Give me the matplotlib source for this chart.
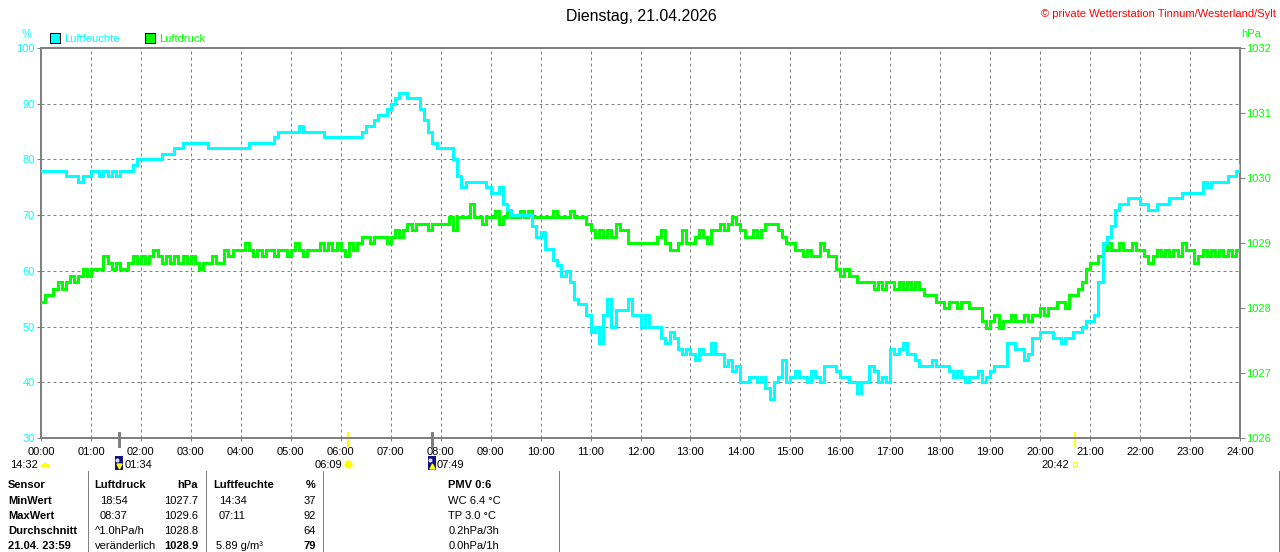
import matplotlib
matplotlib.use('Agg')
import matplotlib.pyplot as plt
import numpy as np
from matplotlib.patches import Rectangle
from matplotlib.lines import Line2D
from matplotlib.markers import MarkerStyle
import matplotlib.transforms as mtrans

plt.rcParams['font.family'] = ['Liberation Sans', 'DejaVu Sans']
plt.rcParams['lines.scale_dashes'] = False

# ---------------- data ----------------
title = 'Dienstag, 21.04.2026'
copyright_text = '\u00a9 private Wetterstation Tinnum/Westerland/Sylt'
hour_labels = ['%02d:00' % h for h in range(25)]
hum_ticks = [30, 40, 50, 60, 70, 80, 90, 100]
pres_ticks = [1026, 1027, 1028, 1029, 1030, 1031, 1032]
sample_step_min = 5

humidity = [
    78, 78, 78, 78, 78, 78, 77, 77, 77, 76, 77, 77,
    78, 78, 77, 78, 77, 78, 77, 78, 78, 78, 79, 80,
    80, 80, 80, 80, 80, 81, 81, 81, 82, 82, 83, 83,
    83, 83, 83, 83, 82, 82, 82, 82, 82, 82, 82, 82,
    82, 82, 83, 83, 83, 83, 83, 83, 84, 85, 85, 85,
    85, 85, 86, 85, 85, 85, 85, 85, 84, 84, 84, 84,
    84, 84, 84, 84, 84, 85, 86, 86, 87, 88, 88, 89,
    90, 91, 92, 92, 91, 91, 91, 89, 87, 85, 83, 82,
    82, 82, 82, 80, 77, 75, 76, 76, 76, 76, 76, 75,
    74, 74, 75, 72, 71, 70, 70, 70, 70, 70, 68, 66,
    67, 64, 64, 62, 61, 59, 60, 58, 55, 54, 54, 52,
    49, 50, 47, 52, 55, 50, 53, 53, 53, 55, 52, 52,
    50, 52, 50, 50, 50, 48, 47, 49, 48, 46, 45, 46,
    45, 44, 46, 45, 45, 47, 45, 45, 43, 44, 42, 43,
    40, 40, 41, 41, 40, 41, 39, 37, 40, 41, 44, 40,
    41, 42, 41, 41, 40, 42, 41, 40, 43, 43, 43, 42,
    41, 41, 40, 40, 38, 40, 40, 43, 42, 40, 41, 40,
    46, 45, 46, 47, 45, 45, 44, 43, 43, 43, 44, 43,
    43, 43, 42, 41, 42, 41, 40, 41, 41, 42, 40, 41,
    42, 43, 43, 43, 47, 47, 46, 46, 44, 45, 48, 48,
    49, 49, 49, 48, 48, 47, 48, 48, 49, 49, 50, 51,
    51, 52, 58, 65, 66, 68, 71, 72, 72, 73, 73, 73,
    72, 72, 71, 71, 72, 72, 72, 73, 73, 73, 74, 74,
    74, 74, 74, 76, 75, 76, 76, 76, 76, 77, 77, 78,
    79]

pressure = [
    1028.1, 1028.2, 1028.2, 1028.3, 1028.4, 1028.3, 1028.4, 1028.5, 1028.4, 1028.5, 1028.6, 1028.5,
    1028.6, 1028.6, 1028.6, 1028.8, 1028.7, 1028.6, 1028.7, 1028.6, 1028.6, 1028.7, 1028.8, 1028.7,
    1028.8, 1028.7, 1028.8, 1028.9, 1028.8, 1028.7, 1028.8, 1028.7, 1028.8, 1028.7, 1028.8, 1028.7,
    1028.8, 1028.7, 1028.6, 1028.7, 1028.7, 1028.8, 1028.7, 1028.7, 1028.9, 1028.8, 1028.9, 1028.9,
    1028.9, 1029.0, 1028.9, 1028.8, 1028.9, 1028.8, 1028.9, 1028.9, 1028.8, 1028.9, 1028.9, 1028.8,
    1028.9, 1029.0, 1028.9, 1028.8, 1028.9, 1028.9, 1028.9, 1029.0, 1028.9, 1029.0, 1028.9, 1029.0,
    1028.9, 1028.8, 1029.0, 1028.9, 1029.0, 1029.1, 1029.1, 1029.0, 1029.1, 1029.1, 1029.1, 1029.0,
    1029.1, 1029.2, 1029.1, 1029.2, 1029.3, 1029.2, 1029.3, 1029.3, 1029.3, 1029.2, 1029.3, 1029.3,
    1029.3, 1029.3, 1029.4, 1029.2, 1029.4, 1029.4, 1029.4, 1029.6, 1029.4, 1029.4, 1029.3, 1029.4,
    1029.4, 1029.5, 1029.3, 1029.4, 1029.5, 1029.4, 1029.4, 1029.5, 1029.4, 1029.5, 1029.4, 1029.4,
    1029.4, 1029.4, 1029.4, 1029.5, 1029.4, 1029.4, 1029.4, 1029.5, 1029.4, 1029.4, 1029.4, 1029.3,
    1029.2, 1029.1, 1029.2, 1029.1, 1029.2, 1029.1, 1029.3, 1029.2, 1029.2, 1029.0, 1029.0, 1029.0,
    1029.0, 1029.0, 1029.0, 1029.0, 1029.1, 1029.2, 1029.0, 1028.9, 1028.9, 1029.0, 1029.2, 1029.0,
    1029.0, 1029.1, 1029.2, 1029.1, 1029.0, 1029.2, 1029.2, 1029.3, 1029.2, 1029.3, 1029.4, 1029.3,
    1029.2, 1029.1, 1029.1, 1029.2, 1029.1, 1029.2, 1029.3, 1029.3, 1029.3, 1029.2, 1029.1, 1029.0,
    1029.0, 1028.9, 1028.9, 1028.8, 1028.9, 1028.8, 1028.8, 1029.0, 1028.9, 1028.8, 1028.8, 1028.6,
    1028.5, 1028.6, 1028.5, 1028.5, 1028.4, 1028.4, 1028.4, 1028.4, 1028.3, 1028.4, 1028.3, 1028.4,
    1028.4, 1028.3, 1028.4, 1028.3, 1028.4, 1028.3, 1028.4, 1028.3, 1028.2, 1028.2, 1028.2, 1028.1,
    1028.1, 1028.0, 1028.1, 1028.1, 1028.0, 1028.1, 1028.1, 1028.0, 1028.0, 1028.0, 1027.8, 1027.7,
    1027.8, 1027.9, 1027.7, 1027.8, 1027.8, 1027.9, 1027.8, 1027.8, 1027.9, 1027.8, 1027.9, 1027.9,
    1028.0, 1027.9, 1028.0, 1028.0, 1028.1, 1028.1, 1028.0, 1028.2, 1028.2, 1028.3, 1028.4, 1028.6,
    1028.7, 1028.7, 1028.8, 1028.9, 1029.0, 1028.9, 1028.9, 1029.0, 1028.9, 1028.9, 1029.0, 1028.9,
    1028.9, 1028.8, 1028.7, 1028.8, 1028.9, 1028.8, 1028.9, 1028.8, 1028.9, 1028.8, 1029.0, 1028.9,
    1028.9, 1028.7, 1028.8, 1028.9, 1028.8, 1028.9, 1028.8, 1028.9, 1028.8, 1028.9, 1028.8, 1028.9,
    1028.9]

# sun / moon events (hours) and their labels
event_times = [1 + 34 / 60, 6 + 9 / 60, 7 + 49 / 60, 20 + 42 / 60]
event_labels = ['01:34', '06:09', '07:49', '20:42']
event_kinds = ['moonset', 'sunrise', 'moonrise', 'sunset']
moon_info_label = '14:32'

# table
table_row_labels = ['Sensor', 'MinWert', 'MaxWert', 'Durchschnitt', '21.04. 23:59']
pres_header = ['Luftdruck', 'hPa']
pres_info = ['18:54', '08:37', '^1.0hPa/h', 'ver\u00e4nderlich']
pres_values = ['1027.7', '1029.6', '1028.8', '1028.9']
hum_header = ['Luftfeuchte', '%']
hum_info = ['14:34', '07:11', '', '5.89 g/m\u00b3']
hum_values = ['37', '92', '64', '79']
extra_col = ['PMV 0:6', 'WC 6.4 \u00b0C', 'TP 3.0 \u00b0C', '0.2hPa/3h', '0.0hPa/1h']

# ---------------- styling ----------------
CYAN = '#00ffff'
GREEN = '#00ff00'
GRAY = '#808080'
W, H = 1280, 552
PX = 72 / 100  # points per pixel


def fx(px):
    return px / W


def fy(py):
    return 1 - py / H


fig = plt.figure(figsize=(12.8, 5.52), dpi=100)
L, R, T, B = 41, 1240, 48, 438
rect = [fx(L), fy(B), fx(R) - fx(L), fy(T) - fy(B)]

ax = fig.add_axes(rect)
ax2 = ax.twinx()
ax3 = ax.twinx()

hours = np.arange(len(humidity)) * sample_step_min / 60.0

ax.set_xlim(0, 24)
ax.set_ylim(hum_ticks[0], hum_ticks[-1])
ax2.set_ylim(pres_ticks[0], pres_ticks[-1])
ax3.set_ylim(hum_ticks[0], hum_ticks[-1])

ax2.plot(hours, pressure, drawstyle='steps-post', color=GREEN, lw=3 * PX,
         solid_joinstyle='miter', zorder=3)
ax3.plot(hours, humidity, drawstyle='steps-post', color=CYAN, lw=3 * PX,
         solid_joinstyle='miter', zorder=3)

# grid
for h in range(1, 24):
    ax.axvline(h, color=GRAY, lw=1 * PX, ls=(0, (3 * PX, 3 * PX)), zorder=1)
for v in hum_ticks[1:-1]:
    ax.axhline(v, color=GRAY, lw=1 * PX, ls=(0, (3 * PX, 3 * PX)), zorder=1)

# spines
for a in (ax, ax2, ax3):
    for s in a.spines.values():
        s.set_color(GRAY)
        s.set_linewidth(2 * PX)
ax3.set_yticks([])
for s in ax3.spines.values():
    s.set_visible(False)

ax.set_xticks(range(25))
ax.set_xticklabels(hour_labels)
ax.tick_params(axis='x', length=3 * PX, width=1 * PX, color=GRAY, pad=4.5,
               labelsize=8, labelcolor='black')
ax.set_yticks(hum_ticks)
ax.set_yticklabels([str(t) for t in hum_ticks])
ax.tick_params(axis='y', length=4 * PX, width=1 * PX, color=GRAY, pad=1.5,
               labelsize=8, labelcolor=CYAN)
ax2.set_yticks(pres_ticks)
ax2.set_yticklabels([str(t) for t in pres_ticks])
ax2.tick_params(axis='y', length=5 * PX, width=1 * PX, color=GRAY, pad=1,
                labelsize=8, labelcolor=GREEN)

# event marks on the time axis
xtr = ax.get_xaxis_transform()
axh = B - T
for t, kind in zip(event_times, event_kinds):
    if kind.startswith('sun'):
        ax.plot([t, t], [-(446 - B) / axh, (B - 433) / axh], color='#ffff00',
                lw=2 * PX, transform=xtr, clip_on=False, zorder=5)
    else:
        ax.plot([t, t], [-(446 - B) / axh, (B - 433) / axh], color=GRAY,
                lw=3 * PX, transform=xtr, clip_on=False, zorder=5)

# event icons + labels
icon_y = -(464 - B) / axh
label_y = -(468 - B) / axh
for t, lab, kind in zip(event_times, event_labels, event_kinds):
    if kind == 'sunrise':
        ax.plot([t], [icon_y], marker=(8, 2, 0), ms=11 * PX, mec='#ffff99', mew=1,
                transform=xtr, clip_on=False)
        ax.plot([t], [icon_y], marker='o', ms=6.5 * PX, mfc='#ffff00', mec='#ffff00',
                transform=xtr, clip_on=False)
        tr = mtrans.offset_copy(xtr, fig=fig, x=-6, y=0, units='dots')
        ax.text(t, label_y, lab, ha='right', va='baseline', fontsize=8, transform=tr)
    elif kind == 'sunset':
        ax.plot([t], [icon_y], marker='s', ms=4.5 * PX, mfc='none', mec='#ffff00',
                mew=1 * PX, transform=xtr, clip_on=False)
        tr = mtrans.offset_copy(xtr, fig=fig, x=-6, y=0, units='dots')
        ax.text(t, label_y, lab, ha='right', va='baseline', fontsize=8, transform=tr)
    else:
        tr_icon = mtrans.offset_copy(xtr, fig=fig, x=-4, y=-(470 - 464), units='dots')
        box = Rectangle((t, icon_y), 8 / 49.96, 14 / axh, transform=tr_icon,
                        facecolor='#101080', edgecolor='none', clip_on=False, zorder=5)
        ax.add_patch(box)
        mk = 'v' if kind == 'moonset' else '^'
        ax.plot([t], [icon_y], marker=mk, ms=5 * PX, mfc='#ffff00', mec='#ffff00',
                transform=mtrans.offset_copy(xtr, fig=fig, x=0, y=-2, units='dots'),
                clip_on=False, zorder=6)
        ax.plot([t], [icon_y], marker='o', ms=4 * PX, mfc='#e0e0ff', mec='none',
                transform=mtrans.offset_copy(xtr, fig=fig, x=-2, y=4, units='dots'),
                clip_on=False, zorder=6)
        tr = mtrans.offset_copy(xtr, fig=fig, x=5, y=0, units='dots')
        ax.text(t, label_y, lab, ha='left', va='baseline', fontsize=8, transform=tr)

# moon info at the far left
fig.text(fx(37.5), fy(468), moon_info_label, ha='right', va='baseline', fontsize=8)
fig.add_artist(Line2D([fx(44.5)], [fy(466.5)], marker=MarkerStyle('o', fillstyle='top'),
                      ms=9 * PX, mfc='#ffff00', mfcalt='none', mec='none'))

# titles
fig.text(fx(641), fy(21), title, ha='center', va='baseline', fontsize=11.4)
fig.text(fx(1276), fy(17), copyright_text, ha='right', va='baseline',
         fontsize=8, color='#ff0000')
fig.text(fx(26.5), fy(37), '%', ha='center', va='baseline', fontsize=8, color=CYAN)
fig.text(fx(1241), fy(37), 'hPa', ha='left', va='baseline', fontsize=8, color=GREEN)

# legend
fig.add_artist(Rectangle((fx(50), fy(42.5)), 9.5 / W, 9.5 / H, transform=fig.transFigure,
                         facecolor=CYAN, edgecolor='black', lw=1 * PX))
fig.text(fx(64.5), fy(42), 'Luftfeuchte', ha='left', va='baseline', fontsize=8, color=CYAN)
fig.add_artist(Rectangle((fx(145), fy(42.5)), 9.5 / W, 9.5 / H, transform=fig.transFigure,
                         facecolor=GREEN, edgecolor='black', lw=1 * PX))
fig.text(fx(159.5), fy(42), 'Luftdruck', ha='left', va='baseline', fontsize=8, color=GREEN)

# table
row_base = [488, 503.5, 519, 534.5, 549]
for x in [88, 206, 323, 559, 1279]:
    fig.add_artist(Line2D([fx(x), fx(x)], [fy(471), fy(552)], color=GRAY, lw=1 * PX))

for i, lab in enumerate(table_row_labels):
    fig.text(fx(8), fy(row_base[i]), lab, ha='left', va='baseline', fontsize=8,
             fontweight='bold')
fig.text(fx(94.5), fy(row_base[0]), pres_header[0], ha='left', va='baseline',
         fontsize=8, fontweight='bold')
fig.text(fx(198), fy(row_base[0]), pres_header[1], ha='right', va='baseline',
         fontsize=8, fontweight='bold')
fig.text(fx(212.8), fy(row_base[0]), hum_header[0], ha='left', va='baseline',
         fontsize=8, fontweight='bold')
fig.text(fx(316), fy(row_base[0]), hum_header[1], ha='right', va='baseline',
         fontsize=8, fontweight='bold')
for i in range(4):
    yb = fy(row_base[i + 1])
    last = (i == 3)
    fig.text(fx(100 if i < 2 else 94.5), yb, pres_info[i], ha='left', va='baseline',
             fontsize=8)
    fig.text(fx(198), yb, pres_values[i], ha='right', va='baseline', fontsize=8,
             fontweight='bold' if last else 'normal')
    fig.text(fx(219 if i < 2 else 216), yb, hum_info[i], ha='left', va='baseline',
             fontsize=8)
    fig.text(fx(316), yb, hum_values[i], ha='right', va='baseline', fontsize=8,
             fontweight='bold' if last else 'normal')
for i, s in enumerate(extra_col):
    fig.text(fx(448.5), fy(row_base[i]), s, ha='left', va='baseline', fontsize=8,
             fontweight='bold' if i == 0 else 'normal')

fig.savefig('out.png', dpi=100)
